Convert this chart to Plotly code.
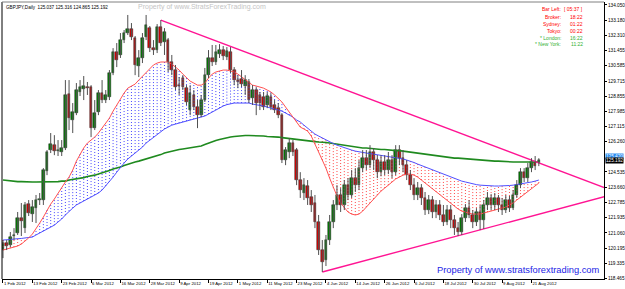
import plotly.graph_objects as go

# ---------------- data (GBPJPY, Daily) ----------------
tick_idx = [0, 8, 16, 24, 32, 40, 48, 56, 64, 72, 80, 88, 96, 104, 112, 120, 128, 136, 144]
tick_dates = ["1 Feb 2012", "13 Feb 2012", "23 Feb 2012", "6 Mar 2012", "16 Mar 2012", "28 Mar 2012",
              "9 Apr 2012", "19 Apr 2012", "1 May 2012", "11 May 2012", "23 May 2012", "4 Jun 2012",
              "14 Jun 2012", "26 Jun 2012", "6 Jul 2012", "18 Jul 2012", "30 Jul 2012", "9 Aug 2012",
              "21 Aug 2012"]

price_ticks = [134.050, 133.180, 132.310, 131.455, 130.585, 129.715, 128.855, 127.985, 127.115,
               126.260, 124.535, 123.660, 122.785, 121.935, 121.060, 120.195, 119.335, 118.465]

open_ = [120.08, 120.48, 120.37, 120.88, 121.05, 121.90, 121.33, 122.70, 122.13, 122.47,
         122.93, 122.93, 124.58, 125.78, 126.06, 125.72, 125.67, 125.90, 128.97, 127.49,
         127.89, 129.09, 129.26, 129.37, 129.37, 127.03, 127.95, 129.03, 128.63, 128.80,
         130.17, 131.37, 131.20, 132.05, 132.45, 132.68, 132.17, 130.57, 131.03, 132.22,
         132.73, 131.59, 131.48, 132.79, 131.95, 132.05, 130.80, 130.34, 129.48, 129.88,
         129.31, 128.06, 128.92, 128.23, 127.77, 128.63, 130.05, 131.03, 130.80, 131.25,
         131.48, 131.08, 131.37, 130.34, 129.77, 129.83, 129.43, 129.66, 128.74, 129.20,
         128.92, 128.80, 128.35, 128.80, 128.35, 128.17, 127.77, 125.21, 125.67, 126.18,
         125.78, 124.07, 123.33, 123.72, 123.10, 122.76, 121.68, 120.08, 119.51, 120.65,
         121.68, 122.65, 123.22, 122.65, 123.78, 123.22, 124.18, 123.78, 124.75, 125.32,
         124.92, 125.67, 125.21, 124.52, 125.09, 124.64, 125.21, 124.52, 125.78, 125.32,
         124.92, 124.35, 123.78, 123.22, 123.61, 123.05, 122.36, 122.93, 122.25, 122.65,
         122.08, 121.68, 122.36, 121.79, 121.33, 121.11, 121.90, 122.47, 122.08, 121.68,
         122.25, 121.79, 122.65, 123.05, 122.65, 123.05, 122.65, 122.36, 122.93, 122.47,
         123.22, 123.78, 124.52, 124.18, 124.75, 125.09, 125.037]
high = [120.65, 120.65, 121.11, 121.33, 122.25, 122.76, 122.82, 122.93, 122.93, 123.22,
        123.33, 124.75, 125.78, 126.75, 126.63, 126.35, 126.35, 129.77, 129.77, 128.46,
        129.60, 129.77, 130.00, 129.66, 129.48, 128.63, 129.20, 129.77, 129.20, 130.34,
        131.59, 131.88, 132.45, 132.62, 133.48, 133.02, 132.28, 131.48, 132.45, 133.48,
        132.85, 132.05, 132.96, 133.19, 132.73, 132.17, 131.20, 130.63, 129.94, 130.05,
        129.48, 129.48, 129.20, 128.63, 128.92, 130.46, 131.48, 131.77, 131.77, 131.82,
        131.71, 131.65, 131.65, 130.51, 130.05, 130.34, 130.05, 129.83, 129.48, 129.37,
        129.09, 129.09, 129.09, 129.03, 128.63, 128.46, 127.89, 125.95, 126.46, 126.35,
        125.90, 124.52, 124.18, 124.07, 123.50, 123.22, 122.08, 120.65, 120.94, 122.08,
        122.93, 123.78, 123.61, 124.07, 124.18, 124.64, 124.75, 125.21, 125.78, 125.78,
        126.06, 125.90, 125.49, 125.49, 125.49, 125.67, 125.49, 126.06, 126.06, 125.78,
        125.21, 124.64, 124.18, 123.96, 123.84, 123.39, 123.22, 123.16, 122.93, 122.93,
        122.65, 122.65, 122.65, 122.08, 121.68, 122.13, 122.70, 122.93, 122.36, 122.47,
        122.65, 122.93, 123.39, 123.27, 123.33, 123.22, 123.05, 123.22, 123.16, 123.50,
        124.07, 124.75, 124.75, 125.04, 125.32, 125.44, 125.316]
low = [119.62, 120.08, 120.25, 120.65, 120.94, 120.88, 121.05, 122.02, 121.68, 121.62,
       122.65, 122.65, 124.35, 125.61, 125.49, 125.44, 125.44, 125.78, 126.92, 126.75,
       127.77, 128.86, 128.63, 128.92, 126.52, 126.92, 127.77, 128.46, 128.46, 128.63,
       130.05, 130.51, 131.03, 131.88, 132.34, 132.05, 130.05, 129.94, 130.74, 132.05,
       131.37, 131.20, 131.31, 131.71, 131.20, 130.23, 130.05, 129.20, 128.92, 129.20,
       128.35, 127.77, 128.06, 127.03, 127.66, 128.52, 129.88, 130.57, 130.63, 131.03,
       130.91, 130.91, 130.17, 129.48, 129.31, 129.37, 128.92, 128.46, 128.35, 127.77,
       128.06, 128.06, 128.17, 128.06, 127.89, 127.60, 125.04, 124.92, 125.32, 125.44,
       123.78, 123.05, 122.93, 122.65, 122.25, 121.33, 119.80, 118.83, 119.17, 120.37,
       121.33, 122.36, 122.25, 122.36, 122.93, 123.05, 123.39, 123.50, 124.52, 124.64,
       124.75, 124.64, 124.18, 124.29, 124.35, 124.41, 124.18, 124.35, 124.92, 124.52,
       124.07, 123.50, 122.93, 122.93, 122.65, 122.08, 122.13, 121.90, 121.90, 121.79,
       121.45, 121.50, 121.33, 120.94, 120.88, 120.94, 121.68, 121.90, 121.33, 121.45,
       121.22, 121.28, 122.36, 122.36, 122.36, 122.25, 122.08, 122.19, 122.25, 122.36,
       123.05, 123.61, 123.96, 123.96, 124.52, 124.64, 124.865]
close = [120.48, 120.31, 120.82, 120.94, 121.90, 121.73, 122.65, 122.19, 122.53, 122.93,
         122.99, 124.64, 125.67, 126.12, 125.72, 125.78, 125.90, 128.92, 127.60, 127.95,
         129.20, 129.37, 129.43, 129.31, 127.03, 127.89, 129.03, 128.63, 128.92, 130.17,
         131.37, 130.91, 132.05, 132.45, 132.68, 132.22, 130.63, 131.03, 132.17, 132.90,
         131.59, 131.48, 132.79, 131.88, 132.51, 130.80, 130.34, 129.37, 129.43, 129.37,
         128.52, 129.03, 128.23, 127.77, 128.63, 130.05, 131.03, 130.80, 131.37, 131.48,
         131.14, 131.42, 130.34, 129.77, 129.66, 129.54, 129.77, 128.63, 129.20, 128.46,
         128.46, 128.23, 128.86, 128.23, 128.06, 127.77, 125.21, 125.78, 126.18, 125.67,
         124.07, 123.50, 123.78, 123.05, 122.65, 121.68, 120.08, 119.40, 120.65, 121.68,
         122.65, 123.22, 122.65, 123.78, 123.22, 124.18, 123.78, 124.75, 125.32, 124.92,
         125.67, 125.21, 124.52, 125.09, 124.64, 125.21, 124.52, 125.78, 125.32, 124.92,
         124.35, 123.78, 123.22, 123.61, 123.05, 122.36, 122.93, 122.25, 122.65, 122.08,
         121.68, 122.36, 121.79, 121.33, 121.11, 121.90, 122.47, 122.08, 121.68, 122.25,
         121.79, 122.65, 123.05, 122.65, 123.05, 122.65, 122.36, 122.93, 122.47, 123.22,
         123.78, 124.52, 124.18, 124.75, 125.09, 124.86, 125.192]

ma_fast = [120.08, 120.14, 120.19, 120.25, 120.31, 120.42, 120.59, 120.77, 120.99, 121.28,
           121.62, 121.96, 122.36, 122.70, 122.99, 123.33, 123.67, 123.96, 124.24, 124.64,
           125.15, 125.55, 125.90, 126.18, 126.35, 126.52, 126.75, 127.03, 127.32, 127.60,
           128.00, 128.35, 128.69, 129.03, 129.31, 129.43, 129.54, 129.77, 130.00, 130.23,
           130.40, 130.63, 130.74, 130.80, 130.80, 130.80, 130.68, 130.51, 130.34, 130.11,
           129.88, 129.71, 129.60, 129.48, 129.48, 129.60, 129.88, 130.11, 130.23, 130.28,
           130.34, 130.34, 130.28, 130.23, 130.11, 129.94, 129.77, 129.60, 129.48, 129.43,
           129.37, 129.31, 129.20, 129.09, 128.92, 128.74, 128.52, 128.23, 127.95, 127.66,
           127.38, 127.09, 126.98, 126.86, 126.58, 126.12, 125.72, 125.21, 124.75, 124.18,
           123.61, 123.16, 122.76, 122.47, 122.25, 122.13, 122.08, 122.13, 122.30, 122.53,
           122.76, 122.99, 123.22, 123.44, 123.61, 123.78, 123.96, 124.13, 124.24, 124.35,
           124.41, 124.41, 124.35, 124.24, 124.07, 123.90, 123.73, 123.56, 123.39, 123.22,
           123.05, 122.93, 122.76, 122.59, 122.42, 122.30, 122.25, 122.19, 122.13, 122.13,
           122.13, 122.19, 122.25, 122.30, 122.36, 122.42, 122.47, 122.53, 122.65, 122.76,
           122.93, 123.10, 123.27, 123.44, 123.61, 123.78, 123.90]
ma_slow = [120.65, 120.65, 120.68, 120.71, 120.71, 120.74, 120.77, 120.80, 120.82, 120.94,
           121.05, 121.16, 121.28, 121.39, 121.50, 121.68, 121.85, 122.08, 122.30, 122.47,
           122.65, 122.76, 122.88, 122.99, 123.10, 123.22, 123.33, 123.50, 123.73, 123.96,
           124.24, 124.52, 124.81, 125.04, 125.27, 125.44, 125.61, 125.78, 125.95, 126.18,
           126.35, 126.52, 126.69, 126.86, 126.98, 127.09, 127.20, 127.26, 127.32, 127.38,
           127.43, 127.49, 127.55, 127.60, 127.66, 127.72, 127.83, 127.95, 128.06, 128.17,
           128.29, 128.37, 128.43, 128.46, 128.46, 128.46, 128.46, 128.46, 128.40, 128.37,
           128.35, 128.29, 128.23, 128.17, 128.12, 128.06, 128.00, 127.89, 127.77, 127.66,
           127.49, 127.38, 127.20, 127.03, 126.86, 126.69, 126.58, 126.46, 126.35, 126.24,
           126.15, 126.06, 125.98, 125.90, 125.84, 125.78, 125.72, 125.67, 125.64, 125.61,
           125.58, 125.55, 125.49, 125.47, 125.44, 125.41, 125.38, 125.35, 125.32, 125.27,
           125.21, 125.15, 125.07, 124.98, 124.90, 124.81, 124.73, 124.64, 124.56, 124.47,
           124.38, 124.30, 124.24, 124.16, 124.07, 124.01, 123.96, 123.90, 123.84, 123.81,
           123.78, 123.76, 123.73, 123.73, 123.73, 123.73, 123.73, 123.73, 123.76, 123.78,
           123.81, 123.84, 123.87, 123.90, 123.96, 124.01, 124.07]
ma_long = [124.07, 124.04, 124.01, 124.01, 123.98, 123.98, 123.96, 123.96, 123.96, 123.96,
           123.96, 123.96, 123.96, 123.96, 123.98, 123.98, 124.01, 124.01, 124.07, 124.10,
           124.13, 124.18, 124.21, 124.27, 124.30, 124.35, 124.41, 124.47, 124.52, 124.61,
           124.70, 124.75, 124.81, 124.90, 124.98, 125.04, 125.10, 125.15, 125.21, 125.27,
           125.32, 125.38, 125.47, 125.52, 125.61, 125.67, 125.72, 125.78, 125.81, 125.84,
           125.87, 125.90, 125.92, 125.95, 126.01, 126.09, 126.18, 126.24, 126.32, 126.38,
           126.44, 126.49, 126.52, 126.55, 126.58, 126.58, 126.61, 126.61, 126.61, 126.58,
           126.58, 126.58, 126.55, 126.55, 126.52, 126.52, 126.49, 126.46, 126.44, 126.41,
           126.41, 126.38, 126.35, 126.32, 126.29, 126.26, 126.24, 126.24, 126.21, 126.18,
           126.15, 126.12, 126.06, 126.04, 126.01, 125.98, 125.95, 125.92, 125.90, 125.90,
           125.87, 125.84, 125.84, 125.81, 125.81, 125.78, 125.78, 125.75, 125.75, 125.72,
           125.69, 125.67, 125.64, 125.61, 125.58, 125.55, 125.52, 125.49, 125.47, 125.44,
           125.41, 125.38, 125.35, 125.32, 125.32, 125.30, 125.27, 125.27, 125.24, 125.21,
           125.21, 125.18, 125.18, 125.15, 125.15, 125.15, 125.13, 125.13, 125.13, 125.10,
           125.10, 125.10, 125.10, 125.10, 125.10, 125.10, 125.10]

trend_upper_x = [43, 164]
trend_upper_y = [133.19, 123.63]
trend_lower_x = [87, 164]
trend_lower_y = [118.83, 123.13]

hline_price = 125.42
bid_price = 125.192

info_labels = ["Bar Left:", "Broker:", "Sydney:", "Tokyo:", "* London:", "* New York:"]
info_values = ["[ 05:37 ]", "18:22", "01:22", "00:22", "16:22", "11:22"]
info_colors = ["#ff0000", "#ff0000", "#ff0000", "#ff0000", "#33b033", "#33b033"]

# ---------------- figure ----------------
n = len(close)
idx = list(range(n))
FONT = "Liberation Sans"

fig = go.Figure()

# hatched fill between fast and slow MA
hx_b, hy_b, hx_r, hy_r = [], [], [], []
for i in idx:
    if ma_fast[i] >= ma_slow[i]:
        hx_b += [i, i, None]; hy_b += [ma_slow[i], ma_fast[i], None]
    else:
        hx_r += [i, i, None]; hy_r += [ma_fast[i], ma_slow[i], None]
fig.add_trace(go.Scatter(x=hx_b, y=hy_b, mode="lines", hoverinfo="skip",
                         line=dict(color="#4646ff", width=1, dash="1px,2px")))
fig.add_trace(go.Scatter(x=hx_r, y=hy_r, mode="lines", hoverinfo="skip",
                         line=dict(color="#ff4646", width=1, dash="1px,2px")))

# moving averages
fig.add_trace(go.Scatter(x=idx, y=ma_long, mode="lines", line=dict(color="#1f8a1f", width=1.6)))
fig.add_trace(go.Scatter(x=idx, y=ma_slow, mode="lines", line=dict(color="#5050ff", width=1)))
fig.add_trace(go.Scatter(x=idx, y=ma_fast, mode="lines", line=dict(color="#ff5050", width=1)))

# horizontal lines
fig.add_hline(y=hline_price, line=dict(color="#2a8cf0", width=1))
fig.add_hline(y=bid_price, line=dict(color="#b8b8b8", width=1))

# trend lines
fig.add_trace(go.Scatter(x=trend_upper_x, y=trend_upper_y, mode="lines",
                         line=dict(color="#ff1493", width=1.4)))
fig.add_trace(go.Scatter(x=trend_lower_x, y=trend_lower_y, mode="lines",
                         line=dict(color="#ff1493", width=1.4)))

# candles: wicks
wx, wy = [], []
for i in idx:
    wx += [i, i, None]; wy += [low[i], high[i], None]
fig.add_trace(go.Scatter(x=wx, y=wy, mode="lines", hoverinfo="skip",
                         line=dict(color="#505050", width=1)))
# candles: bodies
base = [min(o, c) for o, c in zip(open_, close)]
size = [max(abs(c - o), 0.025) for o, c in zip(open_, close)]
colors = ["#008000" if c >= o else "#e00000" for o, c in zip(open_, close)]
fig.add_trace(go.Bar(x=idx, y=size, base=base, width=0.72,
                     marker=dict(color=colors, line=dict(color="#202020", width=0.5))))

# texts
ann = []
ann.append(dict(x=0, y=1, xref="paper", yref="paper", xanchor="left", yanchor="top",
                xshift=2, yshift=-1, showarrow=False,
                text="GBPJPY,Daily  %.3f %.3f %.3f %.3f" % (open_[-1], high[-1], low[-1], close[-1]),
                font=dict(family=FONT, size=4.6, color="#000000")))
ann.append(dict(x=0.333, y=0.982, xref="paper", yref="paper", xanchor="center", yanchor="middle",
                showarrow=False, text="Property of www.StratsForexTrading.com",
                font=dict(family=FONT, size=7, color="#c4c4c4")))
row_y = [9.3, 16.7, 24.0, 30.8, 37.7, 44.4]
for lab, val, col, ry in zip(info_labels, info_values, info_colors, row_y):
    yp = 1 - (ry - 2) / 277
    ann.append(dict(x=(563 - 2) / 602, y=yp, xref="paper", yref="paper", xanchor="right",
                    yanchor="middle", showarrow=False, text=lab,
                    font=dict(family=FONT, size=5, color=col)))
    ann.append(dict(x=(585 - 2) / 602, y=yp, xref="paper", yref="paper", xanchor="right",
                    yanchor="middle", showarrow=False, text=val,
                    font=dict(family=FONT, size=5, color=col)))
ann.append(dict(x=0.995, y=0.032, xref="paper", yref="paper", xanchor="right", yanchor="middle",
                showarrow=False, text="Property of www.stratsforextrading.com",
                font=dict(family=FONT, size=9.3, color="#1c1ce6")))
ann.append(dict(x=1, y=hline_price, xref="paper", yref="y", xanchor="left", yanchor="middle",
                xshift=1, showarrow=False, text="%.3f" % hline_price, bgcolor="#2a8cf0",
                borderpad=0, font=dict(family=FONT, size=4.7, color="#ffffff")))
ann.append(dict(x=1, y=bid_price, xref="paper", yref="y", xanchor="left", yanchor="middle",
                xshift=1, showarrow=False, text="%.3f" % bid_price, bgcolor="#000000",
                borderpad=0, font=dict(family=FONT, size=4.7, color="#ffffff")))

fig.update_layout(
    width=625, height=289,
    margin=dict(l=2, r=21, t=2, b=10, autoexpand=False),
    paper_bgcolor="#ffffff", plot_bgcolor="#ffffff",
    showlegend=False, annotations=ann, bargap=0,
    shapes=[
        dict(type="line", xref="paper", yref="paper", x0=0, x1=0, y0=0, y1=1,
             line=dict(color="#000000", width=1)),
        dict(type="line", xref="paper", yref="paper", x0=0, x1=1, y0=1, y1=1,
             line=dict(color="#808080", width=1)),
    ],
    xaxis=dict(range=[-0.27, 163.76], tickmode="array", tickvals=tick_idx, ticktext=tick_dates,
               ticks="outside", ticklen=3, tickcolor="#000000", ticklabelposition="outside right",
               tickangle=0, automargin=False,
               tickfont=dict(family=FONT, size=4.3, color="#000000"),
               showgrid=False, zeroline=False, showline=True, linecolor="#000000", linewidth=1),
    yaxis=dict(range=[118.43, 134.22], side="right", tickmode="array", tickvals=price_ticks,
               ticktext=["%.3f" % v for v in price_ticks], ticks="outside", ticklen=2,
               automargin=False,
               tickcolor="#000000", tickfont=dict(family=FONT, size=4.7, color="#000000"),
               showgrid=False, zeroline=False, showline=True, linecolor="#000000", linewidth=1),
)

fig.write_html("out.html")
